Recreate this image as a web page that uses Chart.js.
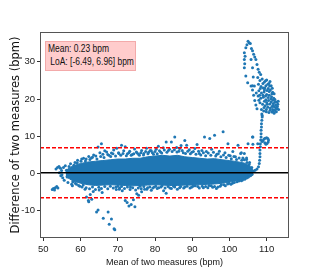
<!DOCTYPE html>
<html>
<head>
<meta charset="utf-8">
<script src="https://cdn.jsdelivr.net/npm/chart.js@4/dist/chart.umd.min.js"></script>
<style>
  html, body { margin: 0; padding: 0; background: #fff; }
  #wrap { position: relative; width: 322px; height: 273px; }
  #note {
    position: absolute; left: 45px; top: 41px; width: 89px; height: 28px;
    background: #ffcccc; border: 1px solid #f3aaaa;
  }
  #note span {
    position: absolute; left: 2px; display: block; white-space: pre;
    font-family: "Liberation Sans", Arial, sans-serif; font-size: 10.3px; color: #111;
    transform: scaleX(0.82); transform-origin: left center;
  }
</style>
</head>
<body>
<div id="wrap">
  <canvas id="c" width="322" height="273"></canvas>
  <div id="note"><span style="top:1px">Mean: 0.23 bpm</span><span style="top:14px"> LoA: [-6.49, 6.96] bpm</span></div>
</div>
<script>
// values
const meanDiff = 0.23;
const loaLow = -6.49;
const loaHigh = 6.96;
const xRange = [49.1, 116];
const yRange = [-17.3, 38];
const xTicks = [50, 60, 70, 80, 90, 100, 110];
const yTicks = [-10, 0, 10, 20, 30];

// solid core of the cloud (upper / lower edge)
const bandX = [56, 57, 58, 60, 62, 64, 66, 68, 70, 72, 74, 76, 78, 80, 82, 84, 86, 88, 90, 92, 94, 96, 98, 100, 102, 104, 105.5, 106.5];
const bandUpper = [0.8, 1.5, 2.1, 2.7, 3.1, 3.3, 3.5, 3.7, 3.9, 3.9, 4.1, 4.1, 4.5, 4.7, 4.9, 4.7, 4.9, 4.5, 4.3, 4.1, 3.9, 4.0, 3.7, 3.5, 3.2, 2.8, 2.0, 0.8];
const bandLower = [-0.8, -1.4, -2.0, -2.6, -3.0, -3.2, -3.1, -3.0, -3.1, -3.2, -3.3, -3.2, -3.1, -3.0, -3.1, -3.2, -3.2, -3.1, -3.1, -3.0, -2.9, -2.8, -2.6, -2.3, -1.9, -1.5, -0.9, -0.3];

// scattered points [mean, difference]
const leftTail = [[52.4,-4.3],[52.7,-4.0],[53.0,-4.4],[53.2,-3.8],[53.6,-3.5],[53.9,-3.9],[53.4,1.2],[53.8,1.6],[54.2,1.9],[54.6,1.4],[54.9,0.8],[54.3,0.2],[54.7,-0.6],[55.2,-1.1],[55.6,-1.8],[55.4,1.6],[55.9,2.1],[56.2,0.9],[56.6,-2.4],[56.9,1.9],[57.3,2.6],[57.6,-2.9],[57.8,-3.3],[55.0,-0.3],[56.4,-0.9]];

const upperFringe = [[58.5,3.0],[59.2,3.6],[60.1,3.3],[60.8,4.1],[61.5,3.9],[62.2,4.6],[62.9,4.2],[63.5,5.0],[64.1,4.7],[64.7,7.1],[65.6,8.0],[65.2,5.6],[66.0,5.2],[66.5,6.1],[67.0,5.8],[67.6,4.9],[68.3,5.5],[68.9,6.3],[69.7,6.8],[70.3,5.4],[71.0,7.6],[71.6,6.1],[72.0,7.2],[72.6,5.3],[73.2,6.0],[73.9,5.1],[74.5,6.6],[75.2,5.5],[75.8,4.9],[76.4,6.2],[77.0,5.4],[77.7,6.8],[78.3,5.7],[79.0,6.1],[79.6,5.2],[80.3,6.5],[80.9,7.3],[81.5,5.8],[82.2,6.9],[83.0,8.5],[83.6,6.2],[84.4,8.5],[85.3,9.8],[85.8,7.0],[86.4,6.0],[87.0,7.5],[87.6,5.6],[88.0,8.9],[88.5,7.6],[89.2,6.4],[89.9,5.7],[90.7,6.7],[91.3,7.8],[91.9,5.4],[92.6,6.2],[93.3,9.8],[93.8,5.9],[94.7,9.4],[95.2,6.5],[96.0,10.3],[96.6,5.2],[97.3,6.0],[98.3,11.2],[98.8,5.6],[99.6,8.0],[100.2,4.8],[100.9,5.9],[101.6,4.5],[102.3,7.6],[103.0,5.4],[103.6,4.2],[104.0,5.4],[104.6,3.8],[105.0,8.0],[105.4,3.0],[106.3,9.8],[107.6,8.0],
  [58.2,2.2],[59.1,2.9],[60.3,3.9],[61.3,3.4],[62.5,3.8],[63.2,4.4],[64.4,3.9],[65.4,4.6],[66.3,4.3],[67.3,5.1],[68.1,4.6],[68.7,5.3],[69.4,4.7],[70.2,5.6],[70.8,4.9],[71.4,5.4],[72.3,4.8],[73.0,5.6],[73.6,4.9],[74.3,5.3],[75.0,5.8],[75.6,5.2],[76.2,5.6],[76.9,5.0],[77.5,5.9],[78.1,5.3],[78.7,6.2],[79.3,5.6],[80.0,5.9],[80.6,5.3],[81.2,6.1],[81.8,5.5],[82.5,6.3],[83.2,5.7],[83.9,6.5],[84.6,5.9],[85.2,6.4],[85.9,5.8],[86.6,6.7],[87.3,6.2],[88.2,5.4],[88.8,6.0],[89.5,5.3],[90.3,5.9],[91.0,5.2],[91.7,6.0],[92.3,5.0],[93.0,5.6],[93.6,4.8],[94.3,5.5],[95.0,4.9],[95.7,5.7],[96.3,4.7],[97.0,5.3],[97.7,4.5],[98.4,5.0],[99.1,4.3],[99.8,4.9],[100.5,4.0],[101.2,4.6],[101.9,3.8],[102.6,4.2],[103.3,3.6],[104.0,3.7],[104.7,3.0],[105.3,2.4],[106.0,1.6]];

const lowerFringe = [[58.6,-2.6],[59.5,-3.2],[60.4,-3.6],[61.2,-4.2],[61.6,-6.3],[62.1,-7.2],[62.2,-7.6],[62.6,-5.6],[63.0,-6.9],[63.4,-4.8],[64.3,-10.3],[64.7,-9.8],[65.0,-4.4],[65.8,-5.1],[66.1,-12.0],[67.4,-10.3],[67.7,-13.6],[68.3,-12.2],[69.0,-14.8],[69.2,-15.1],[69.6,-4.3],[70.5,-3.9],[71.2,-4.6],[72.0,-7.2],[72.5,-7.8],[73.0,-8.7],[73.6,-8.3],[74.2,-7.0],[74.6,-8.9],[75.1,-5.4],[75.6,-5.8],[76.4,-4.9],[77.2,-4.2],[78.0,-3.8],[79.0,-4.5],[79.8,-3.6],[80.6,-4.0],[81.6,-3.6],[82.3,-4.6],[83.0,-5.3],[84.0,-3.9],[85.0,-3.4],[86.6,-3.8],[88.0,-3.6],[89.4,-3.9],[90.2,-3.4],[91.5,-3.5],[93.0,-3.8],[94.5,-3.2],[95.5,-3.7],[96.5,-4.0],[97.5,-3.4],[98.5,-3.0],[99.5,-2.8],[100.8,-2.6],[102.0,-2.2],[103.5,-1.7],[105.0,-1.0],[70.0,-3.4],[73.4,-3.6],[76.0,-3.4],
  [57.9,-2.2],[58.9,-2.9],[59.8,-3.4],[60.7,-3.1],[61.5,-3.8],[62.4,-4.1],[63.2,-3.6],[64.0,-4.3],[64.9,-3.7],[65.6,-4.0],[66.5,-3.5],[67.3,-4.1],[68.0,-3.4],[68.8,-3.9],[69.5,-3.6],[70.4,-4.2],[71.0,-3.5],[71.8,-4.0],[72.6,-3.6],[73.3,-4.3],[74.0,-3.8],[74.8,-4.4],[75.5,-3.9],[76.3,-4.1],[77.0,-3.5],[77.8,-4.2],[78.6,-3.6],[79.4,-3.9],[80.2,-3.4],[81.0,-3.8],[81.9,-3.3],[82.7,-3.9],[83.5,-3.5],[84.4,-4.0],[85.3,-3.6],[86.0,-4.2],[86.9,-3.5],[87.7,-3.9],[88.6,-3.4],[89.8,-3.7],[90.8,-3.3],[91.9,-3.9],[92.7,-3.4],[93.6,-3.5],[94.2,-3.8],[95.1,-3.3],[96.0,-3.5],[96.9,-3.6],[97.8,-3.0],[98.9,-3.3],[99.9,-2.6],[100.4,-2.9],[101.3,-2.4],[102.5,-2.0],[103.2,-1.9],[104.1,-1.5],[104.6,-1.2],[105.6,-0.6]];

const spike = [[105.8,0.3],[106.4,0.6],[106.9,0.9],[107.4,1.2],[107.8,1.8],[108.0,2.7],[108.1,3.6],[108.2,4.5],[108.2,5.4],[108.2,6.3],[108.3,7.2],[108.3,8.0],[108.4,9.0],[108.5,9.8],[108.5,10.7],[108.5,11.6],[108.6,12.5],[108.6,13.4],[108.7,14.3],[108.8,15.2],
  [108.8,8.6],[109.0,8.9],[109.3,9.3],[109.6,9.5],[110.0,9.6],[110.3,9.4],[110.5,9.0],[110.4,8.5],[110.1,8.1],[109.8,7.9],[109.5,8.3],[106.2,9.8],[106.3,7.9],[103.2,5.6],[104.6,4.2]];

const loop = [[105.3,35.1],[104.4,33.8],[105.9,33.6],[104.0,32.4],[106.5,32.0],[104.0,30.6],[105.8,30.6],[107.1,30.6],[104.0,28.4],[106.2,28.4],[107.7,28.0],[104.4,26.2],[106.4,25.9],[108.4,26.6],[104.9,24.4],[105.8,23.5],[106.7,23.5],[105.0,35.5],[104.7,34.6],[105.6,34.9],[106.2,33.0],[106.8,31.3],[107.4,29.3],[108.0,27.2],[104.1,29.5],[104.2,31.5],[106.2,23.6]];

const cluster = [[107.6,25.8],[108.2,25.0],[108.8,25.4],[109.4,24.6],[110.0,25.1],[110.6,24.2],[111.2,23.6],[107.8,24.0],[108.5,23.4],[109.1,23.0],[109.8,23.6],[110.4,22.8],[111.0,22.4],[111.6,21.8],[107.9,22.2],[108.6,21.6],[109.3,21.9],[110.0,21.2],[110.7,21.0],[111.3,20.6],[111.9,20.2],[107.7,20.8],[108.4,20.2],[109.1,20.5],[109.8,19.8],[110.5,19.6],[111.2,19.2],[111.8,18.8],[112.4,18.4],[112.9,18.0],[108.2,19.0],[108.9,18.6],[109.6,18.2],[110.3,17.8],[111.0,17.6],[111.6,17.2],[112.2,17.0],[112.8,17.4],[113.0,18.6],[108.6,17.2],[109.2,16.8],[109.9,16.6],[110.6,16.4],[111.4,16.5],[112.0,16.2],[108.7,16.0],[108.8,15.6],[110.2,18.6],[111.5,18.0],[112.5,17.6],[109.5,23.0],[110.8,23.5],
  [106.2,22.4],[106.5,21.0],[106.8,19.6],[107.1,18.4],[107.4,17.4],[107.2,21.6],
  [109.0,24.2],[109.7,24.9],[110.3,24.0],[110.9,24.7],[111.5,22.9],[112.0,21.4],[109.4,22.4],[110.1,22.3],[110.7,22.0],[111.4,21.4],[112.2,19.9],[112.7,19.2],[109.0,21.0],[109.7,20.8],[110.4,20.4],[111.1,20.0],[111.7,19.7],[112.3,19.2],[109.4,19.4],[110.0,19.1],[110.9,18.7],[111.7,18.3],[112.1,17.9],[113.2,17.2],[112.6,16.6],[111.8,16.8],[110.9,17.0],[109.9,17.2],[109.3,17.7],[113.1,19.4],[108.3,22.8],[108.1,21.0],[107.9,19.7]];

const blue = '#1f77b4';
const tickFont = { family: "'Liberation Sans', Arial, sans-serif", size: 9.5 };
const titleFont = { family: "'Liberation Sans', Arial, sans-serif", size: 9 };
const toXY = arr => arr.map(p => ({ x: p[0], y: p[1] }));
const hLine = y => [{ x: xRange[0], y: y }, { x: xRange[1], y: y }];

// matplotlib style box round the plot
const frame = {
  id: 'frame',
  afterDraw(chart) {
    const a = chart.chartArea, ctx = chart.ctx;
    ctx.save();
    ctx.strokeStyle = '#555';
    ctx.lineWidth = 1;
    ctx.strokeRect(a.left + 0.5, a.top + 0.5, a.right - a.left - 1, a.bottom - a.top - 1);
    ctx.restore();
  }
};

new Chart(document.getElementById('c'), {
  type: 'scatter',
  data: {
    datasets: [
      { data: bandX.map((x, i) => ({ x: x, y: bandUpper[i] })), showLine: true, fill: '+1',
        backgroundColor: blue, borderColor: blue, borderWidth: 1, pointRadius: 0, order: 3 },
      { data: bandX.map((x, i) => ({ x: x, y: bandLower[i] })), showLine: true, fill: false,
        borderColor: blue, borderWidth: 1, pointRadius: 0, order: 3 },
      { data: toXY([].concat(leftTail, upperFringe, lowerFringe, spike, loop, cluster)),
        pointRadius: 1.5, backgroundColor: blue, borderWidth: 0, order: 2 },
      { data: hLine(meanDiff), showLine: true, borderColor: '#000', borderWidth: 1.5, pointRadius: 0, order: 0 },
      { data: hLine(loaHigh), showLine: true, borderColor: '#ff0000', borderWidth: 1.5, borderDash: [4, 2], pointRadius: 0, order: 1 },
      { data: hLine(loaLow), showLine: true, borderColor: '#ff0000', borderWidth: 1.5, borderDash: [4, 2], pointRadius: 0, order: 1 }
    ]
  },
  options: {
    responsive: false,
    animation: false,
    layout: { padding: { top: 32, right: 33, left: 0, bottom: 0 } },
    plugins: { legend: { display: false }, tooltip: { enabled: false } },
    scales: {
      x: {
        type: 'linear', min: xRange[0], max: xRange[1],
        afterFit: s => { s.height = 35; },
        afterBuildTicks: s => { s.ticks = xTicks.map(v => ({ value: v })); },
        grid: { drawOnChartArea: false, drawTicks: true, tickLength: 3, color: '#333' },
        border: { display: false },
        ticks: { font: tickFont, color: '#222', padding: 3, maxRotation: 0 },
        title: { display: true, text: 'Mean of two measures (bpm)', font: titleFont, color: '#111', padding: { top: 0, bottom: 5.5 } }
      },
      y: {
        type: 'linear', min: yRange[0], max: yRange[1],
        afterFit: s => { s.width = 40; },
        afterBuildTicks: s => { s.ticks = yTicks.map(v => ({ value: v })); },
        grid: { drawOnChartArea: false, drawTicks: true, tickLength: 3, color: '#333' },
        border: { display: false },
        ticks: { font: tickFont, color: '#222', padding: 2 },
        title: { display: true, text: 'Difference of two measures (bpm)', font: { family: "'DejaVu Sans', sans-serif", size: 11.5 }, color: '#111', padding: { top: 9, bottom: 0 } }
      }
    }
  },
  plugins: [frame]
});
</script>
</body>
</html>
